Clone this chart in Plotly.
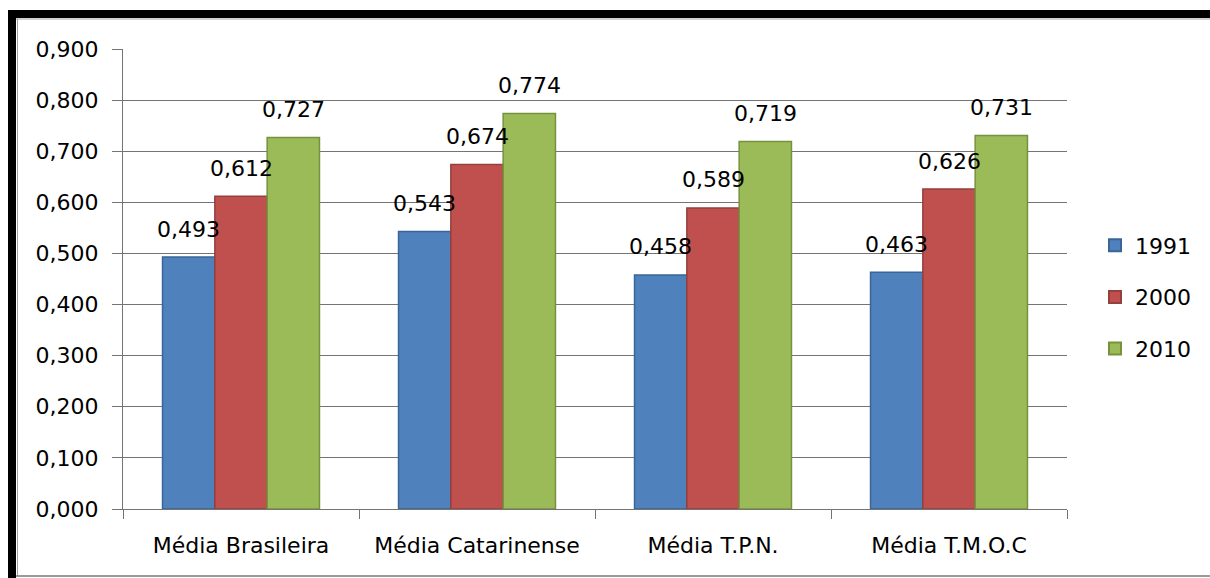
import plotly.graph_objects as go

categories = ["Média Brasileira", "Média Catarinense", "Média T.P.N.", "Média T.M.O.C"]
series_names = ["1991", "2000", "2010"]
values_1991 = [0.493, 0.543, 0.458, 0.463]
values_2000 = [0.612, 0.674, 0.589, 0.626]
values_2010 = [0.727, 0.774, 0.719, 0.731]
y_ticks = [0.0, 0.1, 0.2, 0.3, 0.4, 0.5, 0.6, 0.7, 0.8, 0.9]

fills = ["#4F81BD", "#C0504D", "#9BBB59"]
edges = ["#3A6597", "#94403D", "#76923C"]

W, H = 1210, 578
ML, MR, MT, MB = 123, 143, 49, 69
FONT = "DejaVu Sans"
FS = 22


def fmt(v, nd=3):
    return f"{v:.{nd}f}".replace(".", ",")


fig = go.Figure()
all_series = [values_1991, values_2000, values_2010]
for name, vals, fc, ec in zip(series_names, all_series, fills, edges):
    fig.add_trace(go.Bar(
        x=categories, y=vals, name=name, legendgroup=name,
        marker=dict(color=fc, line=dict(color=ec, width=1.5)),
    ))

# value labels above each bar
plot_w = W - ML - MR
bargap = 0.335
bar_px = plot_w / len(categories) * (1 - bargap) / len(series_names)
for i, vals in enumerate(all_series):
    for cat, v in zip(categories, vals):
        fig.add_annotation(
            x=cat, y=v, xref="x", yref="y", text=fmt(v), showarrow=False,
            xshift=(i - 1) * bar_px, yshift=28, yanchor="middle",
            font=dict(family=FONT, size=FS, color="#000000"),
        )

# frame around the chart
plot_h = H - MT - MB


def px_x(p):
    return (p - ML) / plot_w


def px_y(p):
    return (H - MB - p) / plot_h


def frame(kind, x0, x1, y0, y1, **style):
    return dict(type=kind, xref="paper", yref="paper",
                x0=px_x(x0), x1=px_x(x1), y0=px_y(y0), y1=px_y(y1), **style)


shapes = [
    frame("rect", 8, 1212, 10, 18, fillcolor="#000000", line=dict(width=0)),
    frame("rect", 8, 16, 10, 580, fillcolor="#000000", line=dict(width=0)),
    frame("line", 16, 1212, 19, 19, line=dict(color="#a0a0a0", width=1)),
    frame("line", 17.5, 17.5, 19, 576, line=dict(color="#a0a0a0", width=1)),
    frame("line", 16, 1212, 576, 576, line=dict(color="#7a7a7a", width=1.5)),
]

fig.update_layout(
    width=W, height=H,
    margin=dict(l=ML, r=MR, t=MT, b=MB),
    paper_bgcolor="#ffffff", plot_bgcolor="#ffffff",
    barmode="group", bargap=bargap, bargroupgap=0,
    font=dict(family=FONT, size=FS, color="#000000"),
    shapes=shapes,
    showlegend=True,
    legend=dict(
        x=px_x(1095), y=px_y(297), xanchor="left", yanchor="middle",
        font=dict(family=FONT, size=FS, color="#000000"),
        tracegroupgap=20, bgcolor="rgba(0,0,0,0)", itemsizing="constant",
        itemwidth=30,
    ),
    xaxis=dict(
        showline=True, linecolor="#747474", linewidth=1,
        ticks="outside", tickson="boundaries", ticklen=9, tickcolor="#747474",
        ticklabelstandoff=17, showgrid=False,
    ),
    yaxis=dict(
        range=[0, 0.9], tickvals=y_ticks, ticktext=[fmt(t) for t in y_ticks],
        showline=True, linecolor="#747474", linewidth=1,
        ticks="outside", ticklen=10, tickcolor="#747474",
        showgrid=True, gridcolor="#747474", gridwidth=1, zeroline=False,
        ticklabelstandoff=9,
    ),
)

fig.write_html("out.html")
